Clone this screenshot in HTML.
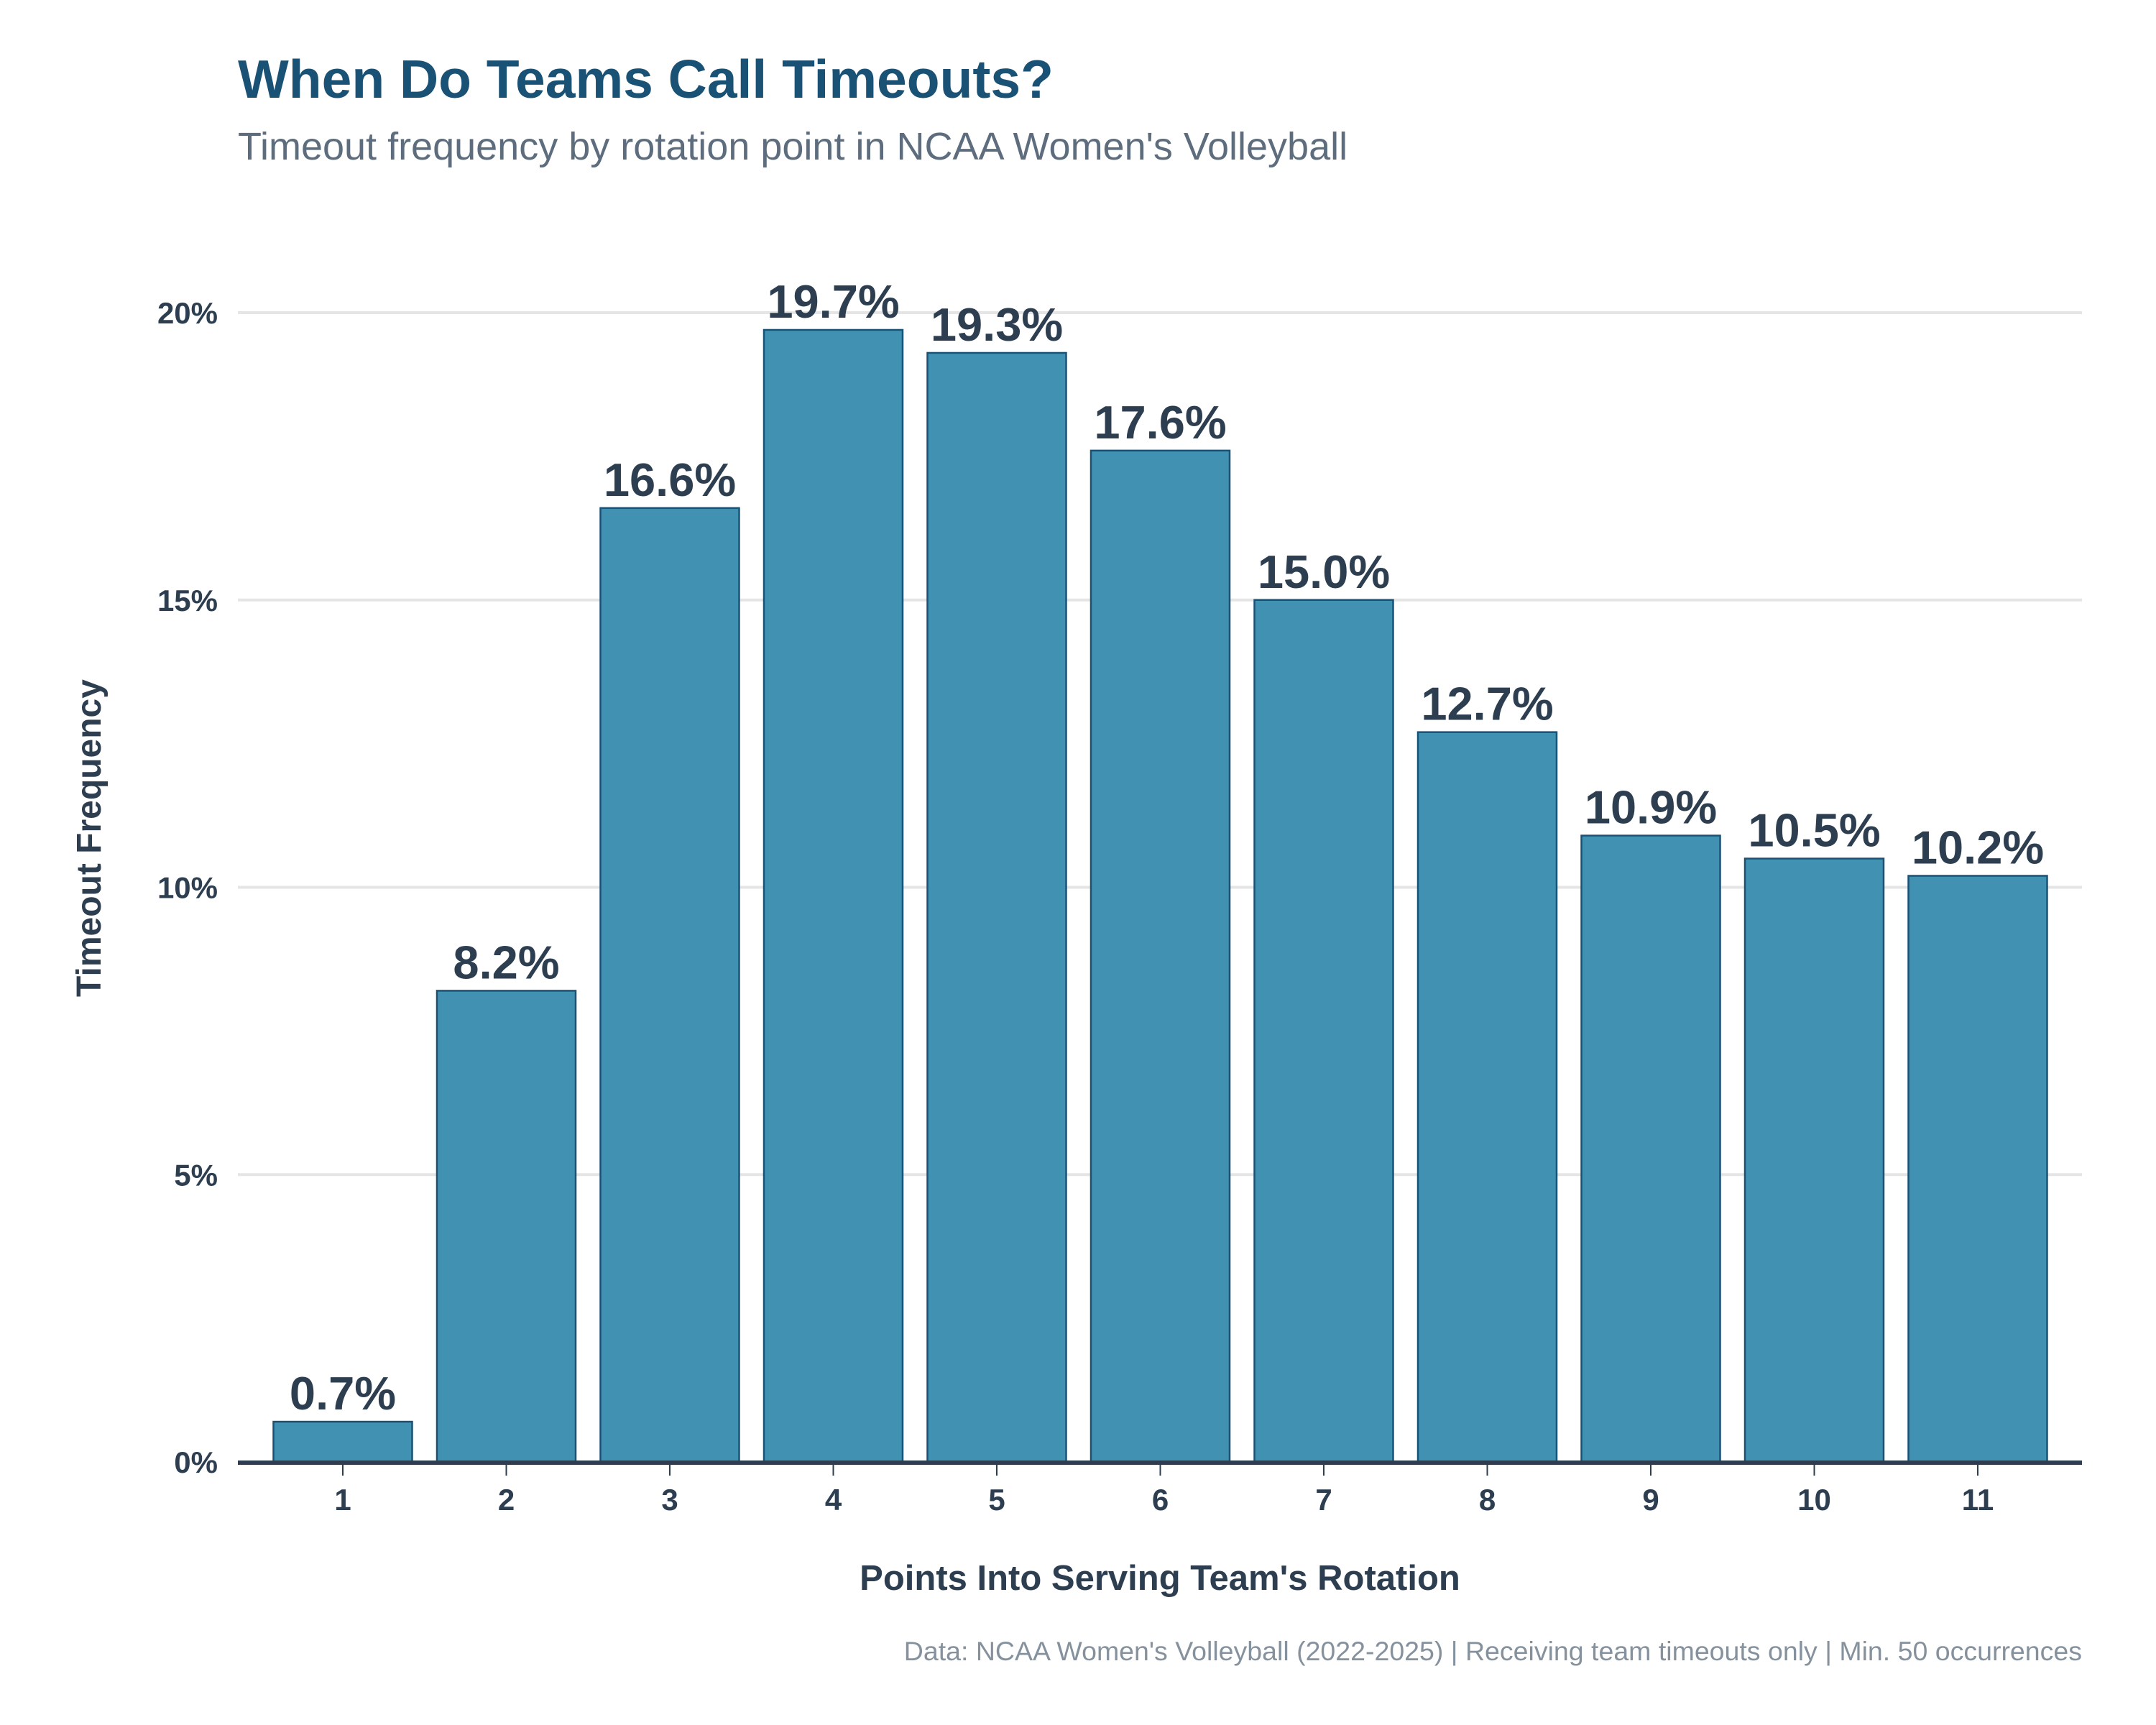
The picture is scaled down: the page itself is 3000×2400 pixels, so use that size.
<!DOCTYPE html>
<html><head><meta charset="utf-8"><style>
body{margin:0;background:#fff}
svg{display:block;font-family:"Liberation Sans",sans-serif}
</style></head><body>
<svg id="chart" width="3000" height="2400" viewBox="0 0 3000 2400">
<text x="331" y="136" font-size="75" font-weight="bold" fill="#1a5276">When Do Teams Call Timeouts?</text>
<text x="331" y="222" font-size="54" fill="#5d6d7e">Timeout frequency by rotation point in NCAA Women's Volleyball</text>
<g id="grid"></g><g id="bars"></g><g id="axes"></g>
<text x="1614" y="2212" font-size="49" font-weight="bold" fill="#2c3e50" text-anchor="middle">Points Into Serving Team's Rotation</text>
<text transform="translate(140,1166) rotate(-90)" font-size="48" font-weight="bold" fill="#2c3e50" text-anchor="middle">Timeout Frequency</text>
<text x="2897" y="2310" font-size="37.5" fill="#85929e" text-anchor="end">Data: NCAA Women's Volleyball (2022-2025) | Receiving team timeouts only | Min. 50 occurrences</text>
</svg>
<script>
const categories=[1,2,3,4,5,6,7,8,9,10,11];
const values=[0.7,8.2,16.6,19.7,19.3,17.6,15.0,12.7,10.9,10.5,10.2];
const yTicks=[0,5,10,15,20];
const yTickLabels=["0%","5%","10%","15%","20%"];
const NS="http://www.w3.org/2000/svg";
function x(i){return 477+(i-1)*227.5;}
function y(v){return 2034-v*79.95;}
function mk(tag,attrs,parent){const e=document.createElementNS(NS,tag);for(const k in attrs)e.setAttribute(k,attrs[k]);parent.appendChild(e);return e;}
const grid=document.getElementById('grid'),bars=document.getElementById('bars'),axes=document.getElementById('axes');
yTicks.forEach((t,i)=>{
 const l=mk('line',{x1:331,x2:2897,y1:y(t),y2:y(t),stroke:'#e5e5e5','stroke-width':4},grid);
 
 
 const tx=mk('text',{x:303,y:y(t)+15,'font-size':42,'font-weight':'bold',fill:'#2c3e50','text-anchor':'end'},axes);
 tx.textContent=yTickLabels[i];
 
 
});
const bw=193;
categories.forEach((c,i)=>{
 const v=values[i];
 const r=mk('rect',{x:x(c)-bw/2,y:y(v),width:bw,height:y(0)-y(v),fill:'#4191b3',stroke:'#1a5276','stroke-width':2.5},bars);
 
 
 const lb=mk('text',{x:x(c),y:y(v)-17,'font-size':65,'font-weight':'bold',fill:'#2c3e50','text-anchor':'middle'},bars);
 lb.textContent=v.toFixed(1)+'%';
 
 
 const tk=mk('line',{x1:x(c),x2:x(c),y1:2034,y2:2053,stroke:'#2c3e50','stroke-width':2},axes);
 
 
 const tl=mk('text',{x:x(c),y:2101,'font-size':42,'font-weight':'bold',fill:'#2c3e50','text-anchor':'middle'},axes);
 tl.textContent=c;
 
 
});
const ax=mk('line',{x1:331,x2:2897,y1:2035,y2:2035,stroke:'#2c3e50','stroke-width':6},axes);


</script>
</body></html>
